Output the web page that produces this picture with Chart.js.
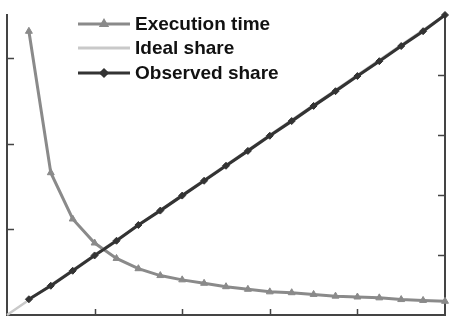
<!DOCTYPE html>
<html>
<head>
<meta charset="utf-8">
<script src="https://cdn.jsdelivr.net/npm/chart.js@4/dist/chart.umd.min.js"></script>
<style>
  html, body { margin: 0; padding: 0; background: #fff; }
  #wrap { width: 450px; height: 327px; }
</style>
</head>
<body>
<div id="wrap"><canvas id="c"></canvas></div>
<script>
// data
const cores = [1,2,3,4,5,6,7,8,9,10,11,12,13,14,15,16,17,18,19,20];
const execTime = [3.31,1.66,1.12,0.84,0.66,0.54,0.46,0.41,0.37,0.33,0.30,0.27,0.26,0.24,0.22,0.21,0.20,0.18,0.17,0.16];
const observedShare = [1.05,1.95,2.95,3.97,4.95,6.0,6.96,7.96,8.95,9.95,10.94,11.95,12.93,13.94,14.92,15.93,16.92,17.93,18.92,20.0];
const idealX = [0, 20];
const idealShare = [0, 20];
const xTicks = [4, 8, 12, 16];
const leftTicks = [1, 2, 3];
const rightTicks = [4, 8, 12, 16];

const pts = (xs, ys) => xs.map((x, i) => ({ x, y: ys[i] }));

// inward tick marks on the three axes
const tickMarks = {
  id: "tickMarks",
  afterDraw(chart) {
    const { ctx, chartArea, scales } = chart;
    ctx.save();
    ctx.strokeStyle = "#444";
    ctx.lineWidth = 1.5;
    ctx.beginPath();
    xTicks.forEach(v => {
      const px = Math.round(scales.x.getPixelForValue(v)) + 0.5;
      ctx.moveTo(px, chartArea.bottom); ctx.lineTo(px, chartArea.bottom - 6);
    });
    leftTicks.forEach(v => {
      const py = Math.round(scales.yL.getPixelForValue(v)) + 0.5;
      ctx.moveTo(chartArea.left, py); ctx.lineTo(chartArea.left + 7, py);
    });
    rightTicks.forEach(v => {
      const py = Math.round(scales.yR.getPixelForValue(v)) + 0.5;
      ctx.moveTo(chartArea.right, py); ctx.lineTo(chartArea.right - 7, py);
    });
    ctx.stroke();
    ctx.restore();
  }
};

// legend: line with small marker in the middle, bold text
const lineLegend = {
  id: "lineLegend",
  afterDraw(chart) {
    const { ctx } = chart;
    const x0 = 78, x1 = 130, tx = 135;
    const rows = [24, 48, 73];
    ctx.save();
    ctx.font = "bold 19px 'Liberation Sans', Arial, sans-serif";
    ctx.textBaseline = "middle";
    chart.data.datasets.forEach((ds, i) => {
      const y = rows[i];
      ctx.strokeStyle = ds.borderColor;
      ctx.fillStyle = ds.borderColor;
      ctx.lineWidth = 3;
      ctx.beginPath(); ctx.moveTo(x0, y); ctx.lineTo(x1, y); ctx.stroke();
      if (ds.pointRadius > 0) {
        Chart.helpers.drawPoint(ctx, {
          pointStyle: ds.pointStyle, radius: 3, borderWidth: 1, rotation: 0
        }, (x0 + x1) / 2, y);
      }
      ctx.fillStyle = "#111";
      ctx.fillText(ds.label, tx, y + 1);
    });
    ctx.restore();
  }
};

const fit0w = s => { s.width = 0; };
const fit0h = s => { s.height = 0; };

new Chart(document.getElementById("c"), {
  type: "line",
  data: {
    datasets: [
      {
        label: "Execution time", data: pts(cores, execTime), yAxisID: "yL",
        borderColor: "#8a8a8a", backgroundColor: "#8a8a8a", borderWidth: 3,
        pointStyle: "triangle", pointRadius: 4, pointBorderWidth: 1, order: 3
      },
      {
        label: "Ideal share", data: pts(idealX, idealShare), yAxisID: "yR",
        borderColor: "#c9c9c9", backgroundColor: "#c9c9c9", borderWidth: 2.5,
        pointRadius: 0, order: 2
      },
      {
        label: "Observed share", data: pts(cores, observedShare), yAxisID: "yR",
        borderColor: "#333333", backgroundColor: "#333333", borderWidth: 3.2,
        pointStyle: "rectRot", pointRadius: 3.5, pointBorderWidth: 1, order: 1
      }
    ]
  },
  options: {
    responsive: true,
    maintainAspectRatio: false,
    animation: false,
    layout: { padding: { left: 7, right: 5, top: 15, bottom: 12 } },
    elements: { line: { tension: 0 } },
    plugins: { legend: { display: false }, tooltip: { enabled: false } },
    clip: false,
    scales: {
      x: {
        type: "linear", min: 0, max: 20,
        ticks: { display: false }, grid: { display: false, drawTicks: false },
        border: { display: true, color: "#444", width: 2 },
        afterFit: fit0h
      },
      yL: {
        position: "left", min: 0, max: 3.5,
        ticks: { display: false }, grid: { display: false, drawTicks: false },
        border: { display: true, color: "#444", width: 2 },
        afterFit: fit0w
      },
      yR: {
        position: "right", min: 0, max: 20,
        ticks: { display: false }, grid: { display: false, drawTicks: false },
        border: { display: true, color: "#444", width: 2 },
        afterFit: fit0w
      }
    }
  },
  plugins: [tickMarks, lineLegend]
});
</script>
</body>
</html>
